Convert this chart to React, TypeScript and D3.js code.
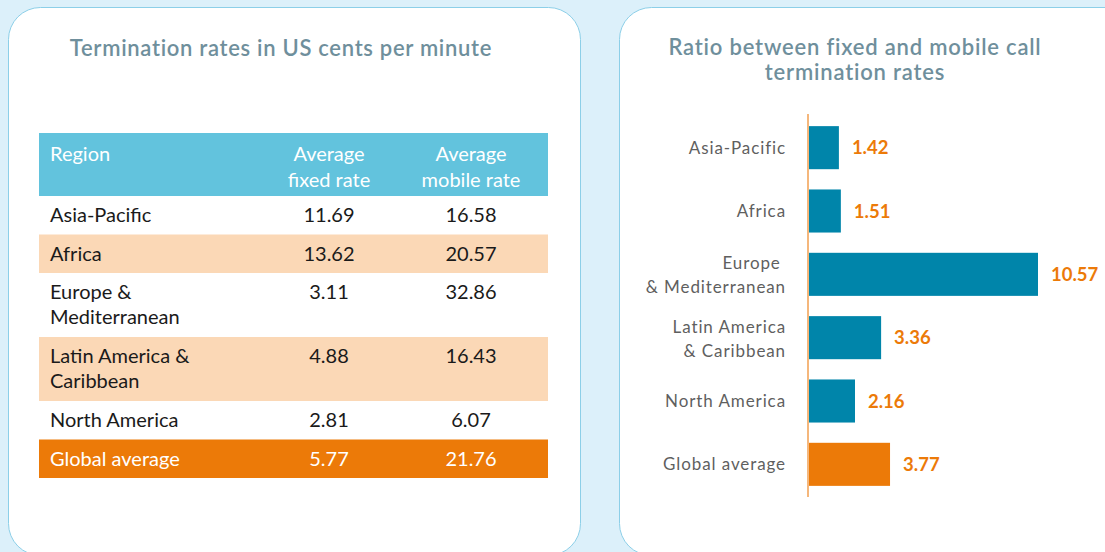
import React from "react";
import * as d3 from "d3";

const regions: string[][] = [
  ["Asia-Pacific"],
  ["Africa"],
  ["Europe &", "Mediterranean"],
  ["Latin America &", "Caribbean"],
  ["North America"],
  ["Global average"],
];
const fixedRates = ["11.69", "13.62", "3.11", "4.88", "2.81", "5.77"];
const mobileRates = ["16.58", "20.57", "32.86", "16.43", "6.07", "21.76"];
const tableHeaders: string[][] = [["Region"], ["Average", "fixed rate"], ["Average", "mobile rate"]];

const ratioCategories: string[][] = [
  ["Asia-Pacific"],
  ["Africa"],
  ["Europe ", "& Mediterranean"],
  ["Latin America", "& Caribbean"],
  ["North America"],
  ["Global average"],
];
const ratioValues = [1.42, 1.51, 10.57, 3.36, 2.16, 3.77];

const leftTitle = "Termination rates in US cents per minute";
const rightTitle = ["Ratio between fixed and mobile call", "termination rates"];

const BG = "#dcf0fa";
const BORDER = "#8ccfe8";
const TITLE = "#6f8f9c";
const HEAD = "#62c3dd";
const PEACH = "#fbd8b6";
const ORANGE = "#ec7a08";
const TEAL = "#0085aa";
const FONT = "Lato, 'Open Sans', sans-serif";

export default function App() {
  const W = 1105, H = 552;

  // table layout
  const tX0 = 39, tX1 = 548;
  const headTop = 133, headBot = 196;
  const rowHeights = regions.map((r) => 13 + 25.5 * r.length);
  const rowTops: number[] = [];
  let acc = headBot;
  rowHeights.forEach((h) => { rowTops.push(acc); acc += h; });
  const colX = [50, 329, 471];

  // bar chart
  const x = d3.scaleLinear().domain([0, 10.57]).range([808, 1038]);
  const y = d3.scaleBand<number>()
    .domain(d3.range(ratioValues.length))
    .range([116, 496])
    .paddingInner(0.32)
    .paddingOuter(0.16);

  return (
    <svg width={W} height={H} style={{ position: "absolute", left: 0, top: 0, display: "block" }}
      fontFamily={FONT}>
      <rect x={0} y={0} width={W} height={H} fill={BG} />
      {/* panels */}
      <rect x={8.5} y={7.5} width={572} height={548} rx={32} ry={32} fill="#fff" stroke={BORDER} strokeWidth={1} />
      <rect x={619.5} y={7.5} width={530} height={548} rx={32} ry={32} fill="#fff" stroke={BORDER} strokeWidth={1} />

      {/* left title */}
      <text x={281} y={56} textAnchor="middle" fontSize={22} fontWeight={600} letterSpacing={0.7} fill={TITLE}>{leftTitle}</text>

      {/* table header */}
      <rect x={tX0} y={headTop} width={tX1 - tX0} height={headBot - headTop} fill={HEAD} />
      {tableHeaders.map((lines, ci) =>
        lines.map((l, li) => (
          <text key={`h${ci}${li}`} x={colX[ci]} y={161 + li * 26} fontSize={20}
            textAnchor={ci === 0 ? "start" : "middle"} fill="#fff">{l}</text>
        ))
      )}
      {/* table rows */}
      {regions.map((lines, ri) => {
        const top = rowTops[ri];
        const isGlobal = ri === regions.length - 1;
        const fill = isGlobal ? ORANGE : ri % 2 === 1 ? PEACH : "#fff";
        const tc = isGlobal ? "#fff" : "#1a1a1a";
        return (
          <g key={`r${ri}`}>
            <rect x={tX0} y={top} width={tX1 - tX0} height={rowHeights[ri]} fill={fill} />
            {lines.map((l, li) => (
              <text key={li} x={colX[0]} y={top + 26 + li * 25} fontSize={20} fill={tc}>{l}</text>
            ))}
            <text x={colX[1]} y={top + 26} fontSize={20} textAnchor="middle" fill={tc}>{fixedRates[ri]}</text>
            <text x={colX[2]} y={top + 26} fontSize={20} textAnchor="middle" fill={tc}>{mobileRates[ri]}</text>
          </g>
        );
      })}

      {/* right title */}
      {rightTitle.map((l, i) => (
        <text key={`rt${i}`} x={855} y={55 + i * 25} textAnchor="middle" fontSize={22} fontWeight={600} letterSpacing={0.8} fill={TITLE}>{l}</text>
      ))}

      {/* bars */}
      {ratioValues.map((v, i) => {
        const by = y(i)!;
        const bh = y.bandwidth();
        const cy = by + bh / 2;
        const isGlobal = i === ratioValues.length - 1;
        const lines = ratioCategories[i];
        return (
          <g key={`b${i}`}>
            <rect x={x(0)} y={by} width={x(v) - x(0)} height={bh} fill={isGlobal ? ORANGE : TEAL} />
            <text x={x(v) + 13} y={cy + 6.5} fontSize={18.5} fontWeight={700} fill={ORANGE}>{v.toFixed(2)}</text>
            {lines.map((l, li) => (
              <text key={li} x={786} y={lines.length === 1 ? cy + 6 : cy - 5 + li * 24}
                textAnchor="end" fontSize={17} letterSpacing={0.9} fill="#5f5f5f" style={{ whiteSpace: "pre" }}>{l}</text>
            ))}
          </g>
        );
      })}
      <line x1={x(0)} x2={x(0)} y1={114} y2={497} stroke="#f5b77c" strokeWidth={2} />
    </svg>
  );
}
